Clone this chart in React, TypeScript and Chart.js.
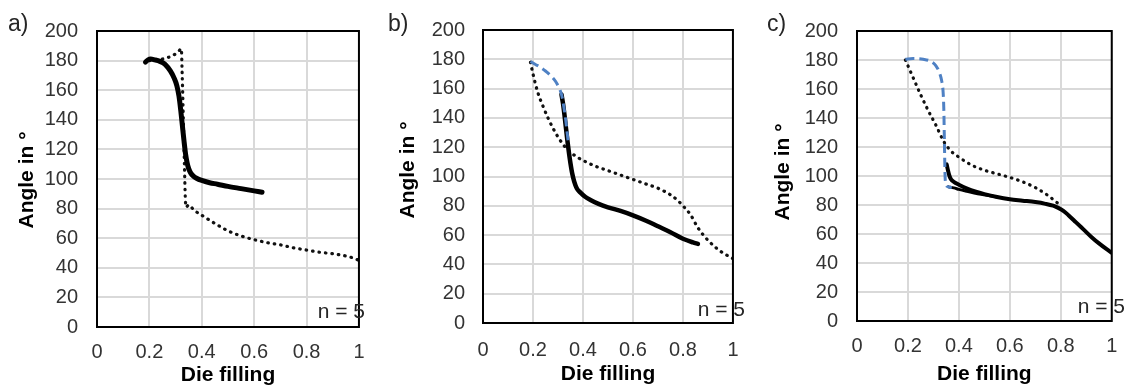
import React, { useEffect, useRef } from "react";
import { Chart, registerables } from "chart.js";
Chart.register(...registerables);

const FONT = '"Liberation Sans", Arial, sans-serif';

const xTickValues = [0, 0.2, 0.4, 0.6, 0.8, 1];
const yTickValues = [0, 20, 40, 60, 80, 100, 120, 140, 160, 180, 200];
const panelLabels = ["a)", "b)", "c)"];
const nLabel = "n = 5";
const xTitle = "Die filling";
const yTitle = "Angle in °";

// Panel a
const aSolidX = [0.185, 0.195, 0.205, 0.22, 0.24, 0.26, 0.28, 0.295, 0.305, 0.313, 0.32, 0.326, 0.332, 0.338, 0.344, 0.35, 0.358, 0.368, 0.38, 0.4, 0.43, 0.46, 0.5, 0.55, 0.6, 0.63];
const aSolidY = [179, 180.5, 181, 180.5, 179.5, 177.5, 173, 168, 163, 156, 146, 136, 126, 117, 111, 107, 104, 102, 100.5, 99, 97.5, 96.5, 95, 93.5, 92, 91];
const aDotX = [0.2, 0.23, 0.26, 0.29, 0.31, 0.322, 0.325, 0.328, 0.331, 0.334, 0.337, 0.34, 0.35, 0.37, 0.4, 0.45, 0.5, 0.55, 0.6, 0.65, 0.7, 0.75, 0.8, 0.85, 0.9, 0.95, 0.98, 1.0];
const aDotY = [180, 180.5, 181.5, 183.5, 186, 188, 172, 152, 130, 108, 88, 81, 82.5, 79, 75.5, 70, 65, 61.5, 59, 57, 55.5, 53.5, 52, 50.5, 49.5, 48, 46.5, 45];

// Panel b
const bSolidX = [0.314, 0.32, 0.326, 0.332, 0.338, 0.344, 0.35, 0.357, 0.365, 0.375, 0.39, 0.41, 0.43, 0.46, 0.5, 0.55, 0.6, 0.65, 0.7, 0.75, 0.8, 0.84, 0.86];
const bSolidY = [156, 150, 142, 133, 124, 116, 109, 102, 96.5, 92, 89, 86, 84, 81.5, 79, 76.5, 73.5, 70, 66, 62, 57.5, 55, 54];
const bDashX = [0.19, 0.21, 0.23, 0.25, 0.27, 0.29, 0.303, 0.314, 0.322, 0.33, 0.336, 0.342];
const bDashY = [178.5, 176.5, 174.5, 172, 169, 165, 161, 156, 149, 140, 131, 122];
const bDotX = [0.19, 0.2, 0.22, 0.24, 0.26, 0.28, 0.3, 0.32, 0.34, 0.37, 0.4, 0.45, 0.5, 0.55, 0.6, 0.65, 0.7, 0.75, 0.78, 0.8, 0.83, 0.86, 0.9, 0.95, 1.0];
const bDotY = [178, 170, 157, 148, 140, 133, 127, 122, 118, 114, 111, 107, 104, 101, 98, 95, 92, 87.5, 83.5, 80, 74, 65, 56.5, 49, 44];

// Panel c
const cSolidX = [0.352, 0.357, 0.363, 0.37, 0.38, 0.4, 0.43, 0.47, 0.5, 0.55, 0.6, 0.65, 0.7, 0.74, 0.77, 0.79, 0.81, 0.83, 0.86, 0.89, 0.92, 0.95, 0.98, 1.0];
const cSolidY = [108, 104, 100, 97.5, 96, 94, 91.5, 89, 87.5, 85.5, 84, 83, 82, 80.8, 79.5, 78, 76, 73, 68, 63, 58, 53.5, 49.5, 47];
const cSolid2X = [0.36, 0.38, 0.4, 0.43, 0.46, 0.5, 0.55];
const cSolid2Y = [92.5, 91.8, 90.8, 89.5, 88.3, 87, 85.5];
const cDashX = [0.19, 0.22, 0.26, 0.29, 0.31, 0.322, 0.332, 0.338, 0.341, 0.3425, 0.344, 0.3455, 0.348, 0.355, 0.365, 0.372];
const cDashY = [180.5, 181, 180.5, 179, 176, 172, 166, 158, 145, 130, 115, 101, 95, 92.8, 92.2, 92];
const cDotX = [0.19, 0.22, 0.25, 0.28, 0.31, 0.34, 0.37, 0.4, 0.45, 0.5, 0.55, 0.6, 0.65, 0.7, 0.75, 0.79];
const cDotY = [180, 168, 156, 145, 135, 124, 117, 113, 107.5, 104, 101.5, 99, 96, 92, 86.5, 81];

const pts = (xs: number[], ys: number[]) => xs.map((x, i) => ({ x, y: ys[i] }));

const solid = (xs: number[], ys: number[], w: number) => ({
  data: pts(xs, ys), borderColor: "#000", borderWidth: w, showLine: true, pointRadius: 0,
  cubicInterpolationMode: "monotone", borderCapStyle: "round", borderJoinStyle: "round", order: 1,
});
const dotted = (xs: number[], ys: number[]) => ({
  data: pts(xs, ys), borderColor: "#111", borderWidth: 3.2, showLine: true, pointRadius: 0,
  cubicInterpolationMode: "monotone", borderCapStyle: "round", borderDash: [0.5, 6], order: 2,
});
const dashed = (xs: number[], ys: number[]) => ({
  data: pts(xs, ys), borderColor: "#4f81c4", borderWidth: 3, showLine: true, pointRadius: 0,
  cubicInterpolationMode: "monotone", borderCapStyle: "butt", borderDash: [9, 5], order: 0,
});

type PanelCfg = {
  left: number; width: number; plotLeft: number; plotRight: number; plotTop: number; plotBottom: number;
  yPad: number; xPad: number; label: string; labelX: number; nX: number; nY: number;
  yTitleX: number; yTitleY: number; xTitleY: number; datasets: any[];
};

const panels: PanelCfg[] = [
  {
    left: 0, width: 378, plotLeft: 97, plotRight: 368, plotTop: 24, plotBottom: 327, yPad: 19, xPad: 13.5,
    label: panelLabels[0], labelX: 8, nX: 365, nY: 312, yTitleX: 27, yTitleY: 180, xTitleY: 381,
    datasets: [solid(aSolidX, aSolidY, 5), dotted(aDotX, aDotY)],
  },
  {
    left: 378, width: 376, plotLeft: 483, plotRight: 747, plotTop: 24, plotBottom: 323, yPad: 18, xPad: 15.5,
    label: panelLabels[1], labelX: 388, nX: 745, nY: 310, yTitleX: 408, yTitleY: 170, xTitleY: 380,
    datasets: [dashed(bDashX, bDashY), solid(bSolidX, bSolidY, 4.5), dotted(bDotX, bDotY)],
  },
  {
    left: 754, width: 377, plotLeft: 857, plotRight: 1125, plotTop: 24, plotBottom: 321, yPad: 19, xPad: 13.7,
    label: panelLabels[2], labelX: 767, nX: 1125, nY: 307, yTitleX: 783, yTitleY: 172, xTitleY: 380,
    datasets: [dashed(cDashX, cDashY), solid(cSolidX, cSolidY, 4), solid(cSolid2X, cSolid2Y, 3), dotted(cDotX, cDotY)],
  },
];

const decorPlugin = {
  id: "decor",
  afterDraw(chart: any, _args: any, opts: any) {
    const { ctx, chartArea: a } = chart;
    ctx.save();
    ctx.strokeStyle = "#000";
    ctx.lineWidth = 2;
    ctx.strokeRect(a.left, a.top, a.right - a.left, a.bottom - a.top);
    ctx.fillStyle = "#262626";
    ctx.font = `23px ${FONT}`;
    ctx.textBaseline = "middle";
    ctx.textAlign = "left";
    ctx.fillText(opts.label, opts.labelX, 25);
    ctx.font = `21px ${FONT}`;
    ctx.textAlign = "right";
    ctx.fillText(nLabel, opts.nX, opts.nY);
    ctx.fillStyle = "#000";
    ctx.font = `bold 21px ${FONT}`;
    ctx.textAlign = "center";
    ctx.textBaseline = "alphabetic";
    ctx.fillText(xTitle, (a.left + a.right) / 2, opts.xTitleY);
    ctx.translate(opts.yTitleX, opts.yTitleY);
    ctx.rotate(-Math.PI / 2);
    ctx.textBaseline = "middle";
    ctx.fillText(yTitle, 0, 0);
    ctx.restore();
  },
};

function Panel({ cfg }: { cfg: PanelCfg }) {
  const ref = useRef<HTMLCanvasElement>(null);
  useEffect(() => {
    if (!ref.current) return;
    const H = 387;
    const chart = new Chart(ref.current, {
      type: "scatter",
      data: { datasets: cfg.datasets },
      plugins: [decorPlugin as any],
      options: {
        responsive: false,
        animation: false,
        devicePixelRatio: 1,
        layout: { padding: { left: 0, top: cfg.plotTop, right: cfg.left + cfg.width - cfg.plotRight, bottom: 0 } },
        plugins: {
          legend: { display: false },
          tooltip: { enabled: false },
          decor: {
            label: cfg.label, labelX: cfg.labelX - cfg.left, nX: cfg.nX - cfg.left, nY: cfg.nY,
            yTitleX: cfg.yTitleX - cfg.left, yTitleY: cfg.yTitleY, xTitleY: cfg.xTitleY,
          },
        } as any,
        scales: {
          x: {
            type: "linear", min: 0, max: 1,
            afterFit: (s: any) => { s.height = H - cfg.plotBottom; },
            afterBuildTicks: (s: any) => { s.ticks = xTickValues.map((v) => ({ value: v })); },
            ticks: {
              padding: cfg.xPad, color: "#333", font: { family: FONT, size: 20 },
              callback: (v: any) => String(Math.round(Number(v) * 10) / 10),
            },
            grid: { color: "#d9d9d9", lineWidth: 2, drawTicks: false },
            border: { display: false },
          },
          y: {
            type: "linear", min: 0, max: 200,
            afterFit: (s: any) => { s.width = cfg.plotLeft - cfg.left; },
            afterBuildTicks: (s: any) => { s.ticks = yTickValues.map((v) => ({ value: v })); },
            ticks: { padding: cfg.yPad, color: "#333", font: { family: FONT, size: 20 } },
            grid: { color: "#d9d9d9", lineWidth: 2, drawTicks: false },
            border: { display: false },
          },
        },
      } as any,
    });
    return () => chart.destroy();
  }, []);
  return (
    <canvas
      ref={ref}
      width={cfg.width}
      height={387}
      style={{ position: "absolute", left: cfg.left, top: 0, width: cfg.width, height: 387 }}
    />
  );
}

export default function App() {
  return (
    <div style={{ position: "absolute", left: 0, top: 0, width: 1131, height: 387, background: "#fff", overflow: "hidden" }}>
      {panels.map((p, i) => (
        <Panel key={i} cfg={p} />
      ))}
    </div>
  );
}
